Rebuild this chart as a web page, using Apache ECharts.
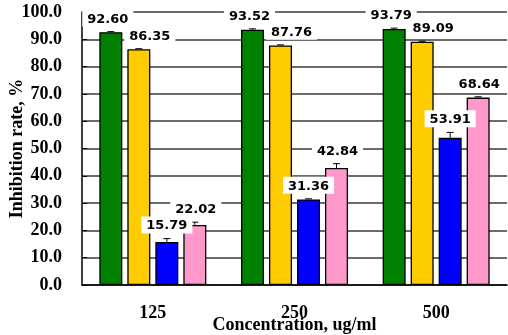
<!DOCTYPE html>
<html>
<head>
<meta charset="utf-8">
<script src="https://cdn.jsdelivr.net/npm/echarts@6/dist/echarts.min.js"></script>
<style>html,body{margin:0;padding:0;background:#fff}#c{width:508px;height:335px}</style>
</head>
<body>
<div id="c"></div>
<script>
const categories = ['125', '250', '500'];
const greenValues = [92.60, 93.52, 93.79];
const yellowValues = [86.35, 87.76, 89.09];
const blueValues = [15.79, 31.36, 53.91];
const pinkValues = [22.02, 42.84, 68.64];
const greenErr = [0.2, 0.3, 0.3];
const yellowErr = [0.2, 0.2, 0.2];
const blueErr = [1.2, 0.2, 2.0];
const pinkErr = [1.0, 1.6, 0.3];
const yTicks = [0, 10, 20, 30, 40, 50, 60, 70, 80, 90, 100];

// style: per-series colours and horizontal label nudge (px)
const seriesDefs = [
  {name: 'A', values: greenValues, errs: greenErr, color: '#008000', labelDx: -3},
  {name: 'B', values: yellowValues, errs: yellowErr, color: '#FFCC00', labelDx: 11},
  {name: 'C', values: blueValues, errs: blueErr, color: '#0000FF', labelDx: 0},
  {name: 'D', values: pinkValues, errs: pinkErr, color: '#FF99CC', labelDx: 1}
];
const BAR_W = 23, BAR_GAP = 5;
const AXIS_FONT = {fontFamily: 'Liberation Serif', fontWeight: 'bold', fontSize: 18, color: '#000'};

const chart = echarts.init(document.getElementById('c'), null, {renderer: 'canvas'});
const series = [];
seriesDefs.forEach((s, si) => {
  series.push({
    type: 'bar', name: s.name, data: s.values,
    barWidth: BAR_W, barGap: (BAR_GAP / BAR_W * 100) + '%',
    itemStyle: {color: s.color, borderColor: '#000', borderWidth: 1.3},
    z: 2
  });
});
seriesDefs.forEach((s, si) => {
  series.push({
    type: 'custom', name: s.name + 'err',
    data: s.values.map((v, i) => [i, v, s.errs[i]]),
    z: 5,
    renderItem: function (params, api) {
      const ci = api.value(0), v = api.value(1), e = api.value(2);
      const off = (si - 1.5) * (BAR_W + BAR_GAP);
      const top = api.coord([ci, v + e]);
      const base = api.coord([ci, v]);
      const x = top[0] + off;
      return {
        type: 'group',
        children: [
          {type: 'line', shape: {x1: x, y1: base[1], x2: x, y2: top[1]}, style: {stroke: '#000', lineWidth: 1}},
          {type: 'line', shape: {x1: x - 3.5, y1: top[1], x2: x + 3.5, y2: top[1]}, style: {stroke: '#000', lineWidth: 1}},
          {type: 'text', z2: 10, style: {
            text: v.toFixed(2), x: x + s.labelDx, y: top[1] - 5,
            align: 'center', verticalAlign: 'bottom',
            font: 'bold 13px "DejaVu Sans"', fill: '#000',
            backgroundColor: '#fff', padding: [3, 5, 1, 5]
          }}
        ]
      };
    }
  });
});

chart.setOption({
  animation: false,
  grid: {left: 82, right: 1, top: 12, bottom: 50, containLabel: false, outerBoundsMode: 'none'},
  xAxis: {
    type: 'category', data: categories,
    name: 'Concentration, ug/ml', nameLocation: 'middle', nameGap: 31, nameMoveOverlap: false,
    nameTextStyle: AXIS_FONT,
    axisLine: {lineStyle: {color: '#000', width: 1.5}},
    axisTick: {inside: true, length: 5, lineStyle: {color: '#000'}},
    axisLabel: Object.assign({margin: 19}, AXIS_FONT)
  },
  yAxis: {
    type: 'value', min: yTicks[0], max: yTicks[yTicks.length - 1], interval: yTicks[1] - yTicks[0],
    name: 'Inhibition rate, %', nameLocation: 'middle', nameGap: 56, nameRotate: 90, nameMoveOverlap: false,
    nameTextStyle: AXIS_FONT,
    axisLine: {show: true, lineStyle: {color: '#000', width: 1.5}},
    axisTick: {show: true, inside: true, length: 5, lineStyle: {color: '#000'}},
    axisLabel: Object.assign({margin: 20, formatter: v => v.toFixed(1)}, AXIS_FONT),
    splitLine: {show: true, lineStyle: {color: '#3a3a3a', width: 1.5}}
  },
  series: series
});
</script>
</body>
</html>
